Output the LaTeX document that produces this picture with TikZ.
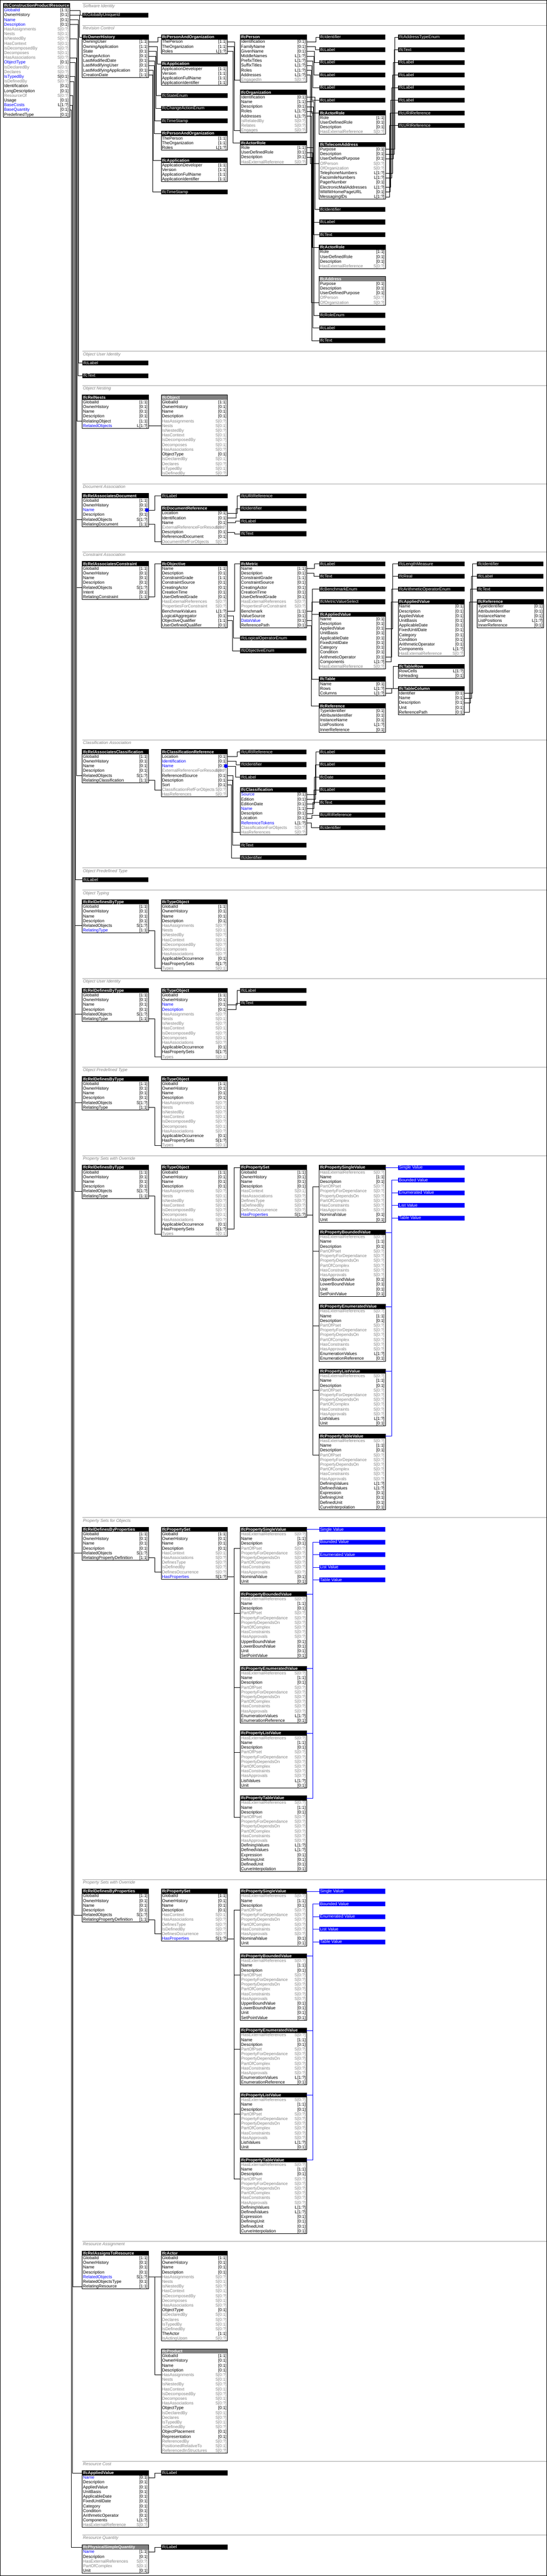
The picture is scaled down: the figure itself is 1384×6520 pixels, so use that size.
\documentclass[tikz,border=0pt]{standalone}
\usepackage{fontspec}
\setmainfont{Liberation Sans}
\usepackage{xcolor}
\definecolor{valblue}{RGB}{0,0,255}
\definecolor{hdgray}{RGB}{128,128,128}
\definecolor{sectgray}{RGB}{160,160,160}
\colorlet{rn}{black}
\colorlet{rb}{valblue}
\colorlet{rg}{hdgray}
\colorlet{cn}{black}
\colorlet{cb}{black}
\colorlet{cg}{hdgray}
\newcommand\rowfont{\fontsize{10.8}{12}\selectfont}
\newcommand\hdfont{\fontsize{10.5}{12}\selectfont\bfseries}
\newcommand\secfont{\fontsize{10.8}{12}\selectfont\itshape}

\tikzset{
  hd/.style={fill=black,minimum width=168pt,minimum height=12pt,inner sep=0pt,outer sep=0pt},
  hdab/.style={hd,fill=hdgray},
  hdtxt/.style={anchor=base west,inner sep=0pt,text=white,font=\hdfont},
  tytxt/.style={anchor=base west,inner sep=0pt,text=white,font=\rowfont},
  rowbox/.style={minimum width=168pt,minimum height=12pt,inner sep=0pt,outer sep=0pt},
  rowtxt/.style={anchor=base west,inner sep=0pt,font=\rowfont},
  cardtxt/.style={anchor=base east,inner sep=0pt,font=\rowfont},
  tblframe/.style={draw=black,line width=1pt},
  conn/.style={draw=black,line width=1pt},
  bconn/.style={draw=valblue,line width=1pt},
  sectline/.style={draw=sectgray,line width=1pt},
  secttxt/.style={anchor=base west,inner sep=0pt,text=hdgray,font=\secfont}
}

% table: id, x, y, header style, header, rows kind/name/card
\newcommand\tbl[6]{%
  \node[#4] (#1) at (#2+84,#3+6) {};
  \begin{scope}
    \clip (#2,#3) rectangle ++(168,12);
    \node[hdtxt] at (#2+2,#3+9.5) {#5};
  \end{scope}
  \foreach \rkind/\rname/\rcard [count=\i] in {#6} {%
    \node[rowbox] (#1-\i) at (#2+84,#3+6+12*\i) {};
    \node[rowtxt,text=r\rkind] at (#2+2,#3+9.5+12*\i) {\rname};
    \node[cardtxt,text=c\rkind] at (#2+166,#3+9.5+12*\i) {\rcard};
    \xdef\nrows{\i}}
  \draw[tblframe] (#2,#3) rectangle ++(168,12*\nrows+12);
}
% type box and value box
\newcommand\typ[4]{%
  \node[hd] (#1) at (#2+84,#3+6) {};
  \node[tytxt] at (#2+2,#3+9.5) {#4};}
\newcommand\bluebox[4]{%
  \node[hd,fill=valblue] (#1) at (#2+84,#3+6) {};
  \node[tytxt] at (#2+2,#3+9.5) {#4};}
\newcommand\secline[2]{%
  \draw[sectline] (208,#1) -- (1383,#1);
  \node[secttxt] at (210,#1+11) {#2};}
\newcommand\lnk[3]{\draw[conn] (#1.east) -- ++(#2,0) |- (#3.west);}

% repeated tables
\newcommand\reldbt[4]{\tbl{#1}{#2}{#3}{hd}{IfcRelDefinesByType}{n/GlobalId/[1:1], n/OwnerHistory/[0:1], n/Name/[0:1], n/Description/[0:1], n/RelatedObjects/S[1:?], #4/RelatingType/[1:1]}}
\newcommand\typeobj[5]{\tbl{#1}{#2}{#3}{hd}{IfcTypeObject}{n/GlobalId/[1:1], n/OwnerHistory/[0:1], #4/Name/[0:1], #5/Description/[0:1], g/HasAssignments/S[0:?], g/Nests/S[0:1], g/IsNestedBy/S[0:?], g/HasContext/S[0:1], g/IsDecomposedBy/S[0:?], g/Decomposes/S[0:1], g/HasAssociations/S[0:?], n/ApplicableOccurrence/[0:1], n/HasPropertySets/S[1:?], g/Types/S[0:1]}}
\newcommand\propset[3]{\tbl{#1}{#2}{#3}{hd}{IfcPropertySet}{n/GlobalId/[1:1], n/OwnerHistory/[0:1], n/Name/[0:1], n/Description/[0:1], g/HasContext/S[0:1], g/HasAssociations/S[0:?], g/DefinesType/S[0:?], g/IsDefinedBy/S[0:?], g/DefinesOccurrence/S[0:?], b/HasProperties/S[1:?]}}
\newcommand\reldbp[3]{\tbl{#1}{#2}{#3}{hd}{IfcRelDefinesByProperties}{n/GlobalId/[1:1], n/OwnerHistory/[0:1], n/Name/[0:1], n/Description/[0:1], n/RelatedObjects/S[1:?], n/RelatingPropertyDefinition/[1:1]}}
\newcommand\applval[4]{\tbl{#1}{#2}{#3}{hd}{IfcAppliedValue}{#4/Name/[0:1], n/Description/[0:1], n/AppliedValue/[0:1], n/UnitBasis/[0:1], n/ApplicableDate/[0:1], n/FixedUntilDate/[0:1], n/Category/[0:1], n/Condition/[0:1], n/ArithmeticOperator/[0:1], n/Components/L[1:?], g/HasExternalReference/S[0:?]}}
\newcommand\actorrole[3]{\tbl{#1}{#2}{#3}{hd}{IfcActorRole}{n/Role/[1:1], n/UserDefinedRole/[0:1], n/Description/[0:1], g/HasExternalReference/S[0:?]}}
\newcommand\persorg[3]{\tbl{#1}{#2}{#3}{hd}{IfcPersonAndOrganization}{n/ThePerson/[1:1], n/TheOrganization/[1:1], n/Roles/L[1:?]}}
\newcommand\application[3]{\tbl{#1}{#2}{#3}{hd}{IfcApplication}{n/ApplicationDeveloper/[1:1], n/Version/[1:1], n/ApplicationFullName/[1:1], n/ApplicationIdentifier/[1:1]}}
% five property kinds with their value boxes
\newcommand\propstack[4]{%
  \tbl{#1sv}{#2}{#3}{hd}{IfcPropertySingleValue}{g/HasExternalReferences/S[0:?], n/Name/[1:1], n/Description/[0:1], g/PartOfPset/S[0:?], g/PropertyForDependance/S[0:?], g/PropertyDependsOn/S[0:?], g/PartOfComplex/S[0:?], g/HasConstraints/S[0:?], g/HasApprovals/S[0:?], n/NominalValue/[0:1], n/Unit/[0:1]}
  \tbl{#1bv}{#2}{#3+164}{hd}{IfcPropertyBoundedValue}{g/HasExternalReferences/S[0:?], n/Name/[1:1], n/Description/[0:1], g/PartOfPset/S[0:?], g/PropertyForDependance/S[0:?], g/PropertyDependsOn/S[0:?], g/PartOfComplex/S[0:?], g/HasConstraints/S[0:?], g/HasApprovals/S[0:?], n/UpperBoundValue/[0:1], n/LowerBoundValue/[0:1], n/Unit/[0:1], n/SetPointValue/[0:1]}
  \tbl{#1ev}{#2}{#3+352}{hd}{IfcPropertyEnumeratedValue}{g/HasExternalReferences/S[0:?], n/Name/[1:1], n/Description/[0:1], g/PartOfPset/S[0:?], g/PropertyForDependance/S[0:?], g/PropertyDependsOn/S[0:?], g/PartOfComplex/S[0:?], g/HasConstraints/S[0:?], g/HasApprovals/S[0:?], n/EnumerationValues/L[1:?], n/EnumerationReference/[0:1]}
  \tbl{#1lv}{#2}{#3+516}{hd}{IfcPropertyListValue}{g/HasExternalReferences/S[0:?], n/Name/[1:1], n/Description/[0:1], g/PartOfPset/S[0:?], g/PropertyForDependance/S[0:?], g/PropertyDependsOn/S[0:?], g/PartOfComplex/S[0:?], g/HasConstraints/S[0:?], g/HasApprovals/S[0:?], n/ListValues/L[1:?], n/Unit/[0:1]}
  \tbl{#1tv}{#2}{#3+680}{hd}{IfcPropertyTableValue}{g/HasExternalReferences/S[0:?], n/Name/[1:1], n/Description/[0:1], g/PartOfPset/S[0:?], g/PropertyForDependance/S[0:?], g/PropertyDependsOn/S[0:?], g/PartOfComplex/S[0:?], g/HasConstraints/S[0:?], g/HasApprovals/S[0:?], n/DefiningValues/L[1:?], n/DefinedValues/L[1:?], n/Expression/[0:1], n/DefiningUnit/[0:1], n/DefinedUnit/[0:1], n/CurveInterpolation/[0:1]}
  \bluebox{#1bs}{#2+200}{#3}{Single Value}
  \bluebox{#1bb}{#2+200}{#3+32}{Bounded Value}
  \bluebox{#1be}{#2+200}{#3+64}{Enumerated Value}
  \bluebox{#1bl}{#2+200}{#3+96}{List Value}
  \bluebox{#1bt}{#2+200}{#3+128}{Table Value}
  \foreach \p in {sv,bv,ev,lv,tv} {\lnk{#4-10}{16}{#1\p-4}}
  \foreach \p/\q in {sv/bs,bv/bb,ev/be,lv/bl,tv/bt} {\draw[bconn] (#1\p.east) -- ++(16,0) |- (#1\q.west);}
}

\begin{document}
\begin{tikzpicture}[x=1pt,y=-1pt]
\useasboundingbox (0,0) rectangle (1384,6520);
\fill[white] (0,0) rectangle (1384,6520);
\draw[line width=1pt] (0.5,0.5) rectangle (1383.5,6519.5);

% the resource itself
\tbl{cpr}{8}{8}{hd}{IfcConstructionProductResource}{b/GlobalId/[1:1], n/OwnerHistory/[0:1], b/Name/[0:1], b/Description/[0:1], g/HasAssignments/S[0:?], g/Nests/S[0:1], g/IsNestedBy/S[0:?], g/HasContext/S[0:1], g/IsDecomposedBy/S[0:?], g/Decomposes/S[0:1], g/HasAssociations/S[0:?], b/ObjectType/[0:1], g/IsDeclaredBy/S[0:1], g/Declares/S[0:?], b/IsTypedBy/S[0:1], g/IsDefinedBy/S[0:?], n/Identification/[0:1], n/LongDescription/[0:1], g/ResourceOf/S[0:?], n/Usage/[0:1], b/BaseCosts/L[1:?], b/BaseQuantity/[0:1], n/PredefinedType/[0:1]}

% Software Identity
\secline{8}{Software Identity}
\typ{guid}{208}{32}{IfcGloballyUniqueId}

% Revision Control
\secline{64}{Revision Control}
\tbl{oh}{208}{88}{hd}{IfcOwnerHistory}{n/OwningUser/[1:1], n/OwningApplication/[1:1], n/State/[0:1], n/ChangeAction/[0:1], n/LastModifiedDate/[0:1], n/LastModifyingUser/[0:1], n/LastModifyingApplication/[0:1], n/CreationDate/[1:1]}
\persorg{pao1}{408}{88}
\application{app1}{408}{156}
\typ{sten}{408}{236}{IfcStateEnum}
\typ{caen}{408}{268}{IfcChangeActionEnum}
\typ{ts1}{408}{300}{IfcTimeStamp}
\persorg{pao2}{408}{332}
\application{app2}{408}{400}
\typ{ts2}{408}{480}{IfcTimeStamp}
\tbl{per}{608}{88}{hd}{IfcPerson}{n/Identification/[0:1], n/FamilyName/[0:1], n/GivenName/[0:1], n/MiddleNames/L[1:?], n/PrefixTitles/L[1:?], n/SuffixTitles/L[1:?], n/Roles/L[1:?], n/Addresses/L[1:?], g/EngagedIn/S[0:?]}
\tbl{org}{608}{228}{hd}{IfcOrganization}{n/Identification/[0:1], n/Name/[1:1], n/Description/[0:1], n/Roles/L[1:?], n/Addresses/L[1:?], g/IsRelatedBy/S[0:?], g/Relates/S[0:?], g/Engages/S[0:?]}
\actorrole{ar3}{608}{356}
\typ{id4a}{808}{88}{IfcIdentifier}
\typ{lb4a}{808}{120}{IfcLabel}
\typ{lb4b}{808}{152}{IfcLabel}
\typ{lb4c}{808}{184}{IfcLabel}
\typ{lb4d}{808}{216}{IfcLabel}
\typ{lb4e}{808}{248}{IfcLabel}
\actorrole{ar4a}{808}{280}
\tbl{tel}{808}{360}{hd}{IfcTelecomAddress}{n/Purpose/[0:1], n/Description/[0:1], n/UserDefinedPurpose/[0:1], g/OfPerson/S[0:?], g/OfOrganization/S[0:?], n/TelephoneNumbers/L[1:?], n/FacsimileNumbers/L[1:?], n/PagerNumber/[0:1], n/ElectronicMailAddresses/L[1:?], n/WWWHomePageURL/[0:1], n/MessagingIDs/L[1:?]}
\typ{id4b}{808}{524}{IfcIdentifier}
\typ{lb4f}{808}{556}{IfcLabel}
\typ{tx4a}{808}{588}{IfcText}
\actorrole{ar4b}{808}{620}
\tbl{addr}{808}{700}{hdab}{IfcAddress}{n/Purpose/[0:1], n/Description/[0:1], n/UserDefinedPurpose/[0:1], g/OfPerson/S[0:?], g/OfOrganization/S[0:?]}
\typ{roen}{808}{792}{IfcRoleEnum}
\typ{lb4g}{808}{824}{IfcLabel}
\typ{tx4b}{808}{856}{IfcText}
\typ{aten}{1008}{88}{IfcAddressTypeEnum}
\typ{tx5}{1008}{120}{IfcText}
\typ{lb5a}{1008}{152}{IfcLabel}
\typ{lb5b}{1008}{184}{IfcLabel}
\typ{lb5c}{1008}{216}{IfcLabel}
\typ{lb5d}{1008}{248}{IfcLabel}
\typ{uri5a}{1008}{280}{IfcURIReference}
\typ{uri5b}{1008}{312}{IfcURIReference}
\foreach \r/\d/\g in {1/24/pao1,2/22/app1,3/20/sten,4/18/caen,5/16/ts1,6/14/pao2,7/12/app2,8/10/ts2} {\lnk{oh-\r}{\d}{\g}}
\lnk{pao1-1}{18}{per-9}
\lnk{pao1-2}{16}{org-8}
\lnk{pao1-3}{14}{ar3}
\foreach \r/\d/\g in {1/24/id4a,2/22/lb4a,3/20/lb4b,4/18/lb4c,5/16/lb4d,6/14/lb4e,7/12/ar4a,8/10/tel-4} {\lnk{per-\r}{\d}{\g}}
\foreach \r/\d/\g in {1/21/id4b,2/19/lb4f,3/17/tx4a,4/15/ar4b,5/12/addr-5} {\lnk{org-\r}{\d}{\g}}
\foreach \r/\d/\g in {1/18/roen,2/16/lb4g,3/13/tx4b} {\lnk{ar3-\r}{\d}{\g}}
\foreach \r/\d/\g in {1/24/aten,2/22/tx5,3/20/lb5a,6/18/lb5b,7/16/lb5c,9/13/lb5d,10/11/uri5a,11/10/uri5b} {\lnk{tel-\r}{\d}{\g}}

% Object User Identity
\secline{889}{Object User Identity}
\typ{lbOU}{208}{913}{IfcLabel}
\typ{txOU}{208}{945}{IfcText}

% Object Nesting
\secline{976}{Object Nesting}
\tbl{rn}{208}{1000}{hd}{IfcRelNests}{n/GlobalId/[1:1], n/OwnerHistory/[0:1], n/Name/[0:1], n/Description/[0:1], n/RelatingObject/[1:1], b/RelatedObjects/L[1:?]}
\tbl{obj}{408}{1000}{hdab}{IfcObject}{n/GlobalId/[1:1], n/OwnerHistory/[0:1], n/Name/[0:1], n/Description/[0:1], g/HasAssignments/S[0:?], g/Nests/S[0:1], g/IsNestedBy/S[0:?], g/HasContext/S[0:1], g/IsDecomposedBy/S[0:?], g/Decomposes/S[0:1], g/HasAssociations/S[0:?], n/ObjectType/[0:1], g/IsDeclaredBy/S[0:1], g/Declares/S[0:?], g/IsTypedBy/S[0:1], g/IsDefinedBy/S[0:?]}
\lnk{rn-6}{16}{obj-6}

% Document Association
\secline{1225}{Document Association}
\tbl{rad}{208}{1249}{hd}{IfcRelAssociatesDocument}{n/GlobalId/[1:1], n/OwnerHistory/[0:1], b/Name/[0:1], n/Description/[0:1], n/RelatedObjects/S[1:?], n/RelatingDocument/[1:1]}
\typ{lbD}{408}{1249}{IfcLabel}
\tbl{dref}{408}{1281}{hd}{IfcDocumentReference}{n/Location/[0:1], n/Identification/[0:1], n/Name/[0:1], g/ExternalReferenceForResources/S[0:?], n/Description/[0:1], n/ReferencedDocument/[0:1], g/DocumentRefForObjects/S[0:?]}
\typ{uriD}{608}{1249}{IfcURIReference}
\typ{idD}{608}{1281}{IfcIdentifier}
\typ{lbD3}{608}{1313}{IfcLabel}
\typ{txD}{608}{1345}{IfcText}
\lnk{rad-3}{16}{lbD}
\lnk{rad-6}{16}{dref-7}
\fill[valblue] ([xshift=-4pt]rad-3.east) circle (5pt);
\foreach \r/\d/\g in {1/24/uriD,2/22/idD,3/20/lbD3,5/18/txD} {\lnk{dref-\r}{\d}{\g}}

% Constraint Association
\secline{1397}{Constraint Association}
\tbl{rac}{208}{1421}{hd}{IfcRelAssociatesConstraint}{n/GlobalId/[1:1], n/OwnerHistory/[0:1], n/Name/[0:1], n/Description/[0:1], n/RelatedObjects/S[1:?], n/Intent/[0:1], n/RelatingConstraint/[1:1]}
\tbl{objv}{408}{1421}{hd}{IfcObjective}{n/Name/[1:1], n/Description/[0:1], n/ConstraintGrade/[1:1], n/ConstraintSource/[0:1], n/CreatingActor/[0:1], n/CreationTime/[0:1], n/UserDefinedGrade/[0:1], g/HasExternalReferences/S[0:?], g/PropertiesForConstraint/S[0:?], n/BenchmarkValues/L[1:?], n/LogicalAggregator/[0:1], n/ObjectiveQualifier/[1:1], n/UserDefinedQualifier/[0:1]}
\tbl{met}{608}{1421}{hd}{IfcMetric}{n/Name/[1:1], n/Description/[0:1], n/ConstraintGrade/[1:1], n/ConstraintSource/[0:1], n/CreatingActor/[0:1], n/CreationTime/[0:1], n/UserDefinedGrade/[0:1], g/HasExternalReferences/S[0:?], g/PropertiesForConstraint/S[0:?], n/Benchmark/[1:1], n/ValueSource/[0:1], b/DataValue/[0:1], n/ReferencePath/[0:1]}
\typ{loe}{608}{1609}{IfcLogicalOperatorEnum}
\typ{oe}{608}{1641}{IfcObjectiveEnum}
\typ{lbC}{808}{1421}{IfcLabel}
\typ{txC}{808}{1453}{IfcText}
\typ{bme}{808}{1485}{IfcBenchmarkEnum}
\typ{mvs}{808}{1517}{IfcMetricValueSelect}
\applval{av4}{808}{1549}{n}
\tbl{tab}{808}{1713}{hd}{IfcTable}{n/Name/[0:1], n/Rows/L[1:?], n/Columns/L[1:?]}
\tbl{ref4}{808}{1781}{hd}{IfcReference}{n/TypeIdentifier/[0:1], n/AttributeIdentifier/[0:1], n/InstanceName/[0:1], n/ListPositions/L[1:?], n/InnerReference/[0:1]}
\typ{lm}{1008}{1421}{IfcLengthMeasure}
\typ{rl}{1008}{1453}{IfcReal}
\typ{aoe}{1008}{1485}{IfcArithmeticOperatorEnum}
\applval{av5}{1008}{1517}{n}
\tbl{trow}{1008}{1681}{hd}{IfcTableRow}{n/RowCells/L[1:?], n/IsHeading/[0:1]}
\tbl{tcol}{1008}{1737}{hd}{IfcTableColumn}{n/Identifier/[0:1], n/Name/[0:1], n/Description/[0:1], n/Unit/[0:1], n/ReferencePath/[0:1]}
\typ{idC}{1208}{1421}{IfcIdentifier}
\typ{lbC6}{1208}{1453}{IfcLabel}
\typ{txC6}{1208}{1485}{IfcText}
\tbl{ref6}{1208}{1517}{hd}{IfcReference}{n/TypeIdentifier/[0:1], n/AttributeIdentifier/[0:1], n/InstanceName/[0:1], n/ListPositions/L[1:?], n/InnerReference/[0:1]}
\lnk{rac-7}{16}{objv}
\lnk{objv-10}{18}{met}
\lnk{objv-11}{15}{loe}
\lnk{objv-12}{13}{oe}
\lnk{met-1}{20}{lbC}
\lnk{met-2}{18}{txC}
\lnk{met-10}{15}{bme}
\foreach \g in {mvs,av4,tab} {\lnk{met-12}{14}{\g}}
\lnk{met-13}{12}{ref4}
\lnk{av4-3}{18}{lm}
\lnk{av4-3}{18}{rl}
\lnk{av4-9}{15}{aoe}
\lnk{av4-10}{14}{av5}
\lnk{tab-2}{19}{trow}
\lnk{tab-3}{16}{tcol}
\foreach \r/\d/\g in {1/20/idC,2/17/lbC6,3/15/txC6,5/13/ref6} {\lnk{tcol-\r}{\d}{\g}}

% Classification Association
\secline{1873}{Classification Association}
\tbl{racl}{208}{1897}{hd}{IfcRelAssociatesClassification}{n/GlobalId/[1:1], n/OwnerHistory/[0:1], n/Name/[0:1], n/Description/[0:1], n/RelatedObjects/S[1:?], n/RelatingClassification/[1:1]}
\tbl{cref}{408}{1897}{hd}{IfcClassificationReference}{n/Location/[0:1], b/Identification/[0:1], b/Name/[0:1], g/ExternalReferenceForResources/S[0:?], n/ReferencedSource/[0:1], n/Description/[0:1], n/Sort/[0:1], g/ClassificationRefForObjects/S[0:?], g/HasReferences/S[0:?]}
\typ{uriCl}{608}{1897}{IfcURIReference}
\typ{idCl}{608}{1929}{IfcIdentifier}
\typ{lbCl}{608}{1961}{IfcLabel}
\tbl{cls}{608}{1993}{hd}{IfcClassification}{b/Source/[0:1], n/Edition/[0:1], n/EditionDate/[0:1], b/Name/[1:1], n/Description/[0:1], n/Location/[0:1], b/ReferenceTokens/L[1:?], g/ClassificationForObjects/S[0:?], g/HasReferences/S[0:?]}
\typ{txCl}{608}{2133}{IfcText}
\typ{idCl2}{608}{2165}{IfcIdentifier}
\typ{lbK1}{808}{1897}{IfcLabel}
\typ{lbK2}{808}{1929}{IfcLabel}
\typ{dtK}{808}{1961}{IfcDate}
\typ{lbK3}{808}{1993}{IfcLabel}
\typ{txK}{808}{2025}{IfcText}
\typ{uriK}{808}{2057}{IfcURIReference}
\typ{idK}{808}{2089}{IfcIdentifier}
\lnk{racl-6}{16}{cref-8}
\fill[valblue] ([xshift=-4pt]cref-3.east) circle (5pt);
\foreach \r/\d/\g in {1/24/uriCl,2/22/idCl,3/20/lbCl,5/14/cls-9,6/12/txCl,7/10/idCl2} {\lnk{cref-\r}{\d}{\g}}
\foreach \r/\d/\g in {1/24/lbK1,2/22/lbK2,3/20/dtK,4/18/lbK3,5/16/txK,6/14/uriK,7/12/idK} {\lnk{cls-\r}{\d}{\g}}

% Object Predefined Type
\secline{2197}{Object Predefined Type}
\typ{lbPT}{208}{2221}{IfcLabel}

% Object Typing
\secline{2253}{Object Typing}
\reldbt{rdt1}{208}{2277}{b}
\typeobj{to1}{408}{2277}{n}{n}
\lnk{rdt1-6}{16}{to1-14}

% Object User Identity (type)
\secline{2477}{Object User Identity}
\reldbt{rdt2}{208}{2501}{n}
\typeobj{to2}{408}{2501}{b}{b}
\typ{lbU2}{608}{2501}{IfcLabel}
\typ{txU2}{608}{2533}{IfcText}
\lnk{rdt2-6}{16}{to2-14}
\lnk{to2-3}{24}{lbU2}
\lnk{to2-4}{22}{txU2}

% Object Predefined Type (type)
\secline{2701}{Object Predefined Type}
\reldbt{rdt3}{208}{2725}{n}
\typeobj{to3}{408}{2725}{n}{n}
\lnk{rdt3-6}{16}{to3-14}

% Property Sets with Override (type)
\secline{2925}{Property Sets with Override}
\reldbt{rdt4}{208}{2949}{n}
\typeobj{to4}{408}{2949}{n}{n}
\propset{ps4}{608}{2949}
\lnk{rdt4-6}{16}{to4-14}
\lnk{to4-13}{16}{ps4}
\propstack{a}{808}{2949}{ps4}

% Property Sets for Objects
\secline{3841}{Property Sets for Objects}
\reldbp{rdp1}{208}{3865}
\propset{ps5}{408}{3865}
\lnk{rdp1-6}{16}{ps5-9}
\propstack{b}{608}{3865}{ps5}

% Property Sets with Override (occurrence)
\secline{4757}{Property Sets with Override}
\reldbp{rdp2}{208}{4781}
\propset{ps6}{408}{4781}
\lnk{rdp2-6}{16}{ps6-9}
\propstack{c}{608}{4781}{ps6}

% Resource Assignment
\secline{5673}{Resource Assignment}
\tbl{rar}{208}{5697}{hd}{IfcRelAssignsToResource}{n/GlobalId/[1:1], n/OwnerHistory/[0:1], n/Name/[0:1], n/Description/[0:1], b/RelatedObjects/S[1:?], n/RelatedObjectsType/[0:1], n/RelatingResource/[1:1]}
\tbl{act}{408}{5697}{hd}{IfcActor}{n/GlobalId/[1:1], n/OwnerHistory/[0:1], n/Name/[0:1], n/Description/[0:1], g/HasAssignments/S[0:?], g/Nests/S[0:1], g/IsNestedBy/S[0:?], g/HasContext/S[0:1], g/IsDecomposedBy/S[0:?], g/Decomposes/S[0:1], g/HasAssociations/S[0:?], n/ObjectType/[0:1], g/IsDeclaredBy/S[0:1], g/Declares/S[0:?], g/IsTypedBy/S[0:1], g/IsDefinedBy/S[0:?], n/TheActor/[1:1], g/IsActingUpon/S[0:?]}
\tbl{prod}{408}{5945}{hdab}{IfcProduct}{n/GlobalId/[1:1], n/OwnerHistory/[0:1], n/Name/[0:1], n/Description/[0:1], g/HasAssignments/S[0:?], g/Nests/S[0:1], g/IsNestedBy/S[0:?], g/HasContext/S[0:1], g/IsDecomposedBy/S[0:?], g/Decomposes/S[0:1], g/HasAssociations/S[0:?], n/ObjectType/[0:1], g/IsDeclaredBy/S[0:1], g/Declares/S[0:?], g/IsTypedBy/S[0:1], g/IsDefinedBy/S[0:?], n/ObjectPlacement/[0:1], n/Representation/[0:1], g/ReferencedBy/S[0:?], g/PositionedRelativeTo/S[0:1], g/ReferencedInStructures/S[0:?]}
\lnk{rar-5}{16}{act-5}
\lnk{rar-5}{16}{prod-5}

% Resource Cost
\secline{6229}{Resource Cost}
\applval{avc}{208}{6253}{b}
\typ{lbRC}{408}{6253}{IfcLabel}
\lnk{avc-1}{16}{lbRC}

% Resource Quantity
\secline{6416}{Resource Quantity}
\tbl{psq}{208}{6441}{hdab}{IfcPhysicalSimpleQuantity}{b/Name/[1:1], n/Description/[0:1], g/HasExternalReferences/S[0:?], g/PartOfComplex/S[0:1], n/Unit/[0:1]}
\typ{lbRQ}{408}{6441}{IfcLabel}
\lnk{psq-1}{16}{lbRQ}

% bundle from the resource to each concept
\lnk{cpr-1}{27}{guid}
\lnk{cpr-2}{25}{oh}
\lnk{cpr-3}{23}{lbOU}
\lnk{cpr-4}{21}{txOU}
\lnk{cpr-7}{19}{rn-5}
\foreach \g in {rad-5,rac-5,racl-5} {\lnk{cpr-11}{17}{\g}}
\lnk{cpr-12}{15}{lbPT}
\foreach \g in {rdt1-5,rdt2-5,rdt3-5,rdt4-5} {\lnk{cpr-15}{13}{\g}}
\foreach \g in {rdp1-5,rdp2-5} {\lnk{cpr-16}{11}{\g}}
\lnk{cpr-19}{9}{rar-7}
\lnk{cpr-21}{7}{avc}
\lnk{cpr-22}{5}{psq}
\end{tikzpicture}
\end{document}
